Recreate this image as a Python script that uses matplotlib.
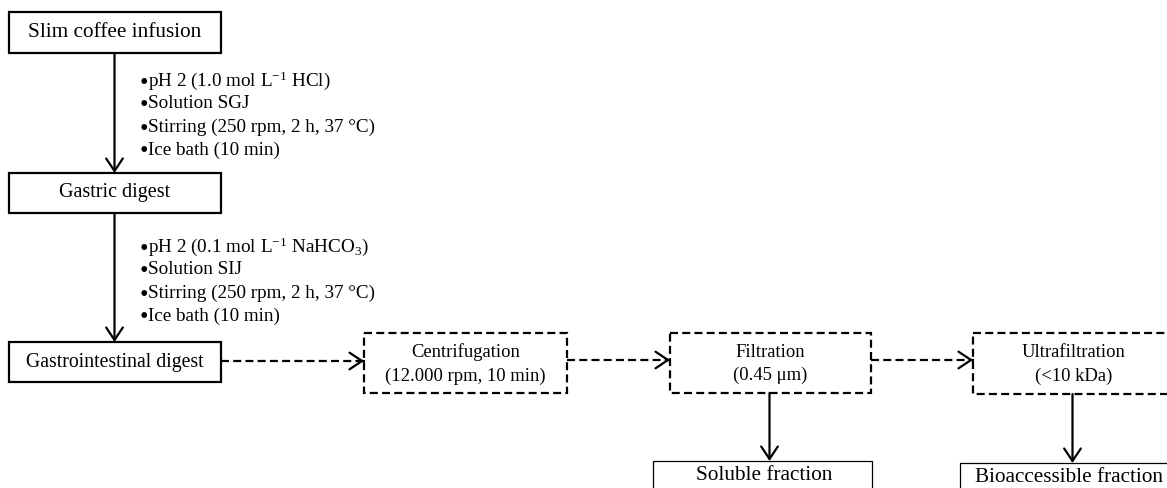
import matplotlib
matplotlib.use("Agg")
import matplotlib.pyplot as plt
from matplotlib.patches import Rectangle

plt.rcParams["font.family"] = ["Liberation Serif", "DejaVu Serif"]
plt.rcParams["mathtext.fontset"] = "custom"
plt.rcParams["mathtext.rm"] = "Liberation Serif"
plt.rcParams["mathtext.it"] = "Liberation Serif:italic"
plt.rcParams["mathtext.bf"] = "Liberation Serif:bold"

# Textos do fluxograma
main_steps = ["Slim coffee infusion", "Gastric digest", "Gastrointestinal digest"]
gastric_conditions = [
    "pH 2 (1.0 mol L$^{-1}$ HCl)",
    "Solution SGJ",
    "Stirring (250 rpm, 2 h, 37 °C)",
    "Ice bath (10 min)",
]
intestinal_conditions = [
    "pH 2 (0.1 mol L$^{-1}$ NaHCO$_3$)",
    "Solution SIJ",
    "Stirring (250 rpm, 2 h, 37 °C)",
    "Ice bath (10 min)",
]
separation_steps = [
    "Centrifugation\n(12.000 rpm, 10 min)",
    "Filtration\n(0.45 μm)",
    "Ultrafiltration\n(<10 kDa)",
]
fractions = ["Soluble fraction", "Bioaccessible fraction"]

# Layout (pixels): caixas principais (x0, x1, y0, y1)
main_boxes = [(9, 221, 12, 53), (9, 221, 173, 213), (9, 221, 342, 382)]
main_fs = [15.3, 14.5, 14.2]
sep_boxes = [(364, 567, 333, 393), (670, 871, 333, 393), (973, 1174, 333, 394)]
frac_boxes = [(653, 872, 461, 500), (960, 1174, 463, 500)]
frac_from = [1, 2]  # de qual caixa tracejada sai cada fração

LW = 1.6
DASH = (0, (3.6, 1.9))
HEAD = "->,head_length=0.45,head_width=0.3"


def arrow_solid(ax, x0, y0, x1, y1):
    ax.annotate("", xy=(x1, y1), xytext=(x0, y0),
                arrowprops=dict(arrowstyle=HEAD, lw=LW, color="black",
                                shrinkA=0, shrinkB=0, mutation_scale=20))


def arrow_dashed(ax, x0, y, x1):
    ax.plot([x0, x1 - 1], [y, y], color="black", lw=LW, linestyle=DASH,
            solid_capstyle="butt", dash_capstyle="butt")
    ax.annotate("", xy=(x1, y), xytext=(x1 - 0.5, y),
                arrowprops=dict(arrowstyle=HEAD, lw=LW, color="black",
                                shrinkA=0, shrinkB=0, mutation_scale=20))


fig = plt.figure(figsize=(11.67, 4.88), dpi=100)
ax = fig.add_axes([0, 0, 1, 1])
ax.set_xlim(0, 1167)
ax.set_ylim(488, 0)
ax.axis("off")

# Caixas principais (linha cheia)
for (x0, x1, y0, y1), label, fs in zip(main_boxes, main_steps, main_fs):
    ax.add_patch(Rectangle((x0, y0), x1 - x0, y1 - y0, fill=False,
                           lw=LW, edgecolor="black"))
    ax.text((x0 + x1) / 2, (y0 + y1) / 2, label, ha="center", va="center",
            fontsize=fs)

# Setas verticais entre as etapas
cx = (main_boxes[0][0] + main_boxes[0][1]) / 2 - 0.5
for i in range(2):
    arrow_solid(ax, cx, main_boxes[i][3], cx, main_boxes[i + 1][2])

# Condições de cada etapa (marcador maior, como no original)
for conds, y_start in [(gastric_conditions, 80), (intestinal_conditions, 246)]:
    for k, c in enumerate(conds):
        yb = y_start + k * 23 + 5.5
        ax.text(139.5, yb + 3, "•", ha="left", va="baseline", fontsize=17.5)
        ax.text(148.5, yb, c, ha="left", va="baseline", fontsize=13.8)

# Caixas tracejadas
for (x0, x1, y0, y1), label in zip(sep_boxes, separation_steps):
    r = Rectangle((x0, y0), x1 - x0, y1 - y0, fill=False, lw=LW,
                  edgecolor="black", linestyle=DASH)
    ax.add_patch(r)
    ax.text((x0 + x1) / 2, (y0 + y1) / 2 + 1, label, ha="center",
            va="center", fontsize=13.4, linespacing=1.5)

# Setas tracejadas horizontais
ym = 361
arrow_dashed(ax, main_boxes[2][1], ym, sep_boxes[0][0])
for i in range(2):
    arrow_dashed(ax, sep_boxes[i][1], ym - 1, sep_boxes[i + 1][0])

# Frações finais
for (x0, x1, y0, y1), label, src in zip(frac_boxes, fractions, frac_from):
    ax.add_patch(Rectangle((x0, y0), x1 - x0, y1 - y0, fill=False,
                           lw=0.9, edgecolor="black"))
    ax.text((x0 + x1) / 2 + 2, y0 + 14, label, ha="center", va="center",
            fontsize=15.3)
    sx = (sep_boxes[src][0] + sep_boxes[src][1]) / 2 - 1
    arrow_solid(ax, sx, sep_boxes[src][3], sx, y0)

fig.savefig("out.png", dpi=100, facecolor="white")
